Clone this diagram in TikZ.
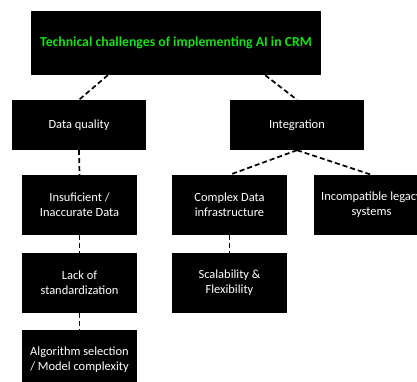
\documentclass[tikz,border=0pt]{standalone}
\usepackage{fontspec}
\setmainfont{Carlito}
\definecolor{titlegreen}{RGB}{20,225,20}
\tikzset{
  box/.style={fill=black, text=white, inner sep=0pt, align=center,
    minimum width=115bp, minimum height=60bp, font=\fontsize{12.5}{15}\selectfont},
  widebox/.style={box, minimum width=134bp, minimum height=50bp},
  link/.style={draw=black, line width=1.7bp, dash pattern=on 5bp off 3bp}
}
\begin{document}
\begin{tikzpicture}[x=1bp, y=-1bp]
  \useasboundingbox (0,0) rectangle (417,382);
  \begin{scope}
    \clip (0,0) rectangle (417,382);
    % root of the tree
    \node[box, minimum width=290bp, minimum height=64bp, text=titlegreen,
      font=\fontsize{13.8}{15}\selectfont\bfseries] (title) at (176,43)
      {Technical challenges of implementing AI in CRM};
    % first level
    \node[widebox] (dq) at (79,125) {Data quality};
    \node[widebox] (integ) at (297,125) {Integration};
    % data quality branch
    \node[box] (insuf) at (79.5,205) {Insuficient /\\Inaccurate Data};
    \node[box] (lack) at (79.5,283) {Lack of\\standardization};
    \node[box] (algo) at (79.5,360) {Algorithm selection\\/ Model complexity};
    % integration branch
    \node[box] (complex) at (229.5,205) {Complex Data\\infrastructure};
    \node[box] (scal) at (229.5,283) {Scalability \&\\Flexibility};
    \node[box] (incompat) at (371.5,205) {Incompatible legacy\\systems};
    % dashed connectors
    \draw[link] ([xshift=77bp]title.south west) -- (dq.north);
    \draw[link] ([xshift=-56bp]title.south east) -- (integ.north);
    \draw[link] (dq.south) -- (insuf.north);
    \draw[link] (insuf.south) -- (lack.north);
    \draw[link] (lack.south) -- (algo.north);
    \draw[link] (integ.south) -- (complex.north);
    \draw[link] (integ.south) -- (incompat.north);
    \draw[link] (complex.south) -- (scal.north);
  \end{scope}
\end{tikzpicture}
\end{document}
